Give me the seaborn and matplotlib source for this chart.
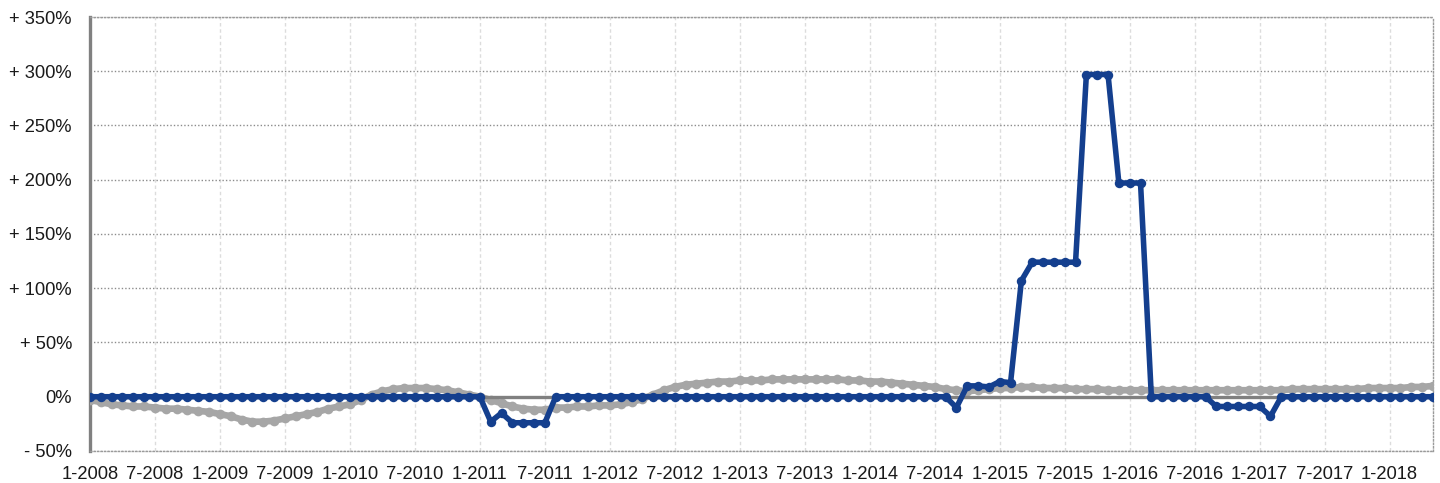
import numpy as np
import pandas as pd
import matplotlib
matplotlib.use("Agg")
import matplotlib.pyplot as plt
import seaborn as sns

# Monthly change (%), January 2008 through May 2018
blue_values = (
    [0] * 37
    + [-23, -15, -24, -24, -24, -24]
    + [0] * 37
    + [-10]
    + [10, 10, 9, 14, 13]
    + [107]
    + [124] * 5
    + [297] * 3
    + [197] * 3
    + [0] * 6
    + [-9] * 5
    + [-18]
    + [0] * 15
)

gray_values = [
    -3, -5, -7, -8, -9, -9, -10, -11, -11, -12, -13, -14,
    -16, -18, -21, -23, -23, -22, -20, -18, -16, -14, -11, -9,
    -7, -3, 2, 5, 7, 8, 8, 8, 7, 6, 4, 2,
    0, -3, -6, -9, -11, -12, -12, -10, -10, -9, -9, -8,
    -8, -7, -5, -2, 2, 6, 9, 11, 12, 13, 14, 14,
    15, 15, 15, 16, 16, 16, 16, 16, 16, 16, 15, 15,
    14, 14, 13, 12, 11, 10, 9, 7, 6, 5, 6, 7,
    8, 8, 9, 9, 8, 8, 8, 7, 7, 7, 6, 6,
    6, 6, 6, 6, 6, 6, 6, 6, 6, 6, 6, 6,
    6, 6, 6, 7, 7, 7, 7, 7, 7, 7, 8, 8,
    8, 8, 9, 9, 10,
]

x_tick_labels = [
    "1-2008", "7-2008", "1-2009", "7-2009", "1-2010", "7-2010", "1-2011",
    "7-2011", "1-2012", "7-2012", "1-2013", "7-2013", "1-2014", "7-2014",
    "1-2015", "7-2015", "1-2016", "7-2016", "1-2017", "7-2017", "1-2018",
]
y_tick_values = [-50, 0, 50, 100, 150, 200, 250, 300, 350]
y_tick_labels = ["- 50%", "0%", "+ 50%", "+ 100%", "+ 150%", "+ 200%",
                 "+ 250%", "+ 300%", "+ 350%"]

BLUE = "#143f8e"
GRAY = "#a6a6a6"
AXIS_GRAY = "#808080"

months = np.arange(len(blue_values))
df = pd.DataFrame({"month": months, "blue": blue_values, "gray": gray_values})

sns.set_style("white")
plt.rcParams["font.family"] = ["Liberation Sans", "DejaVu Sans"]

fig = plt.figure(figsize=(14.4, 4.83), dpi=100)
ax = fig.add_axes([0.0625, 0.0663, 0.9326, 0.8985])

sns.lineplot(data=df, x="month", y="gray", ax=ax, color=GRAY, lw=4.8,
             marker="o", markersize=7.0, markeredgewidth=0, zorder=3)
ax.axhline(0, color=AXIS_GRAY, lw=2.4, zorder=4)
sns.lineplot(data=df, x="month", y="blue", ax=ax, color=BLUE, lw=4.0,
             marker="o", markersize=6.8, markeredgewidth=0, zorder=5)

ax.set_xlim(0, len(blue_values) - 1)
ax.set_ylim(-50, 350)

ax.set_xticks(np.arange(0, len(x_tick_labels) * 6, 6))
ax.set_xticklabels(x_tick_labels, fontsize=13.2, color="#1a1a1a")
ax.set_yticks(y_tick_values)
ax.set_yticklabels(y_tick_labels, fontsize=13.2, color="#1a1a1a")
ax.set_xlabel("")
ax.set_ylabel("")

ax.tick_params(axis="x", length=0, pad=11)
ax.tick_params(axis="y", length=4, width=2, color=AXIS_GRAY, direction="out", pad=9)

ax.xaxis.grid(True, color="#dcdcdc", lw=1.0, ls=(0, (2.5, 2)), zorder=0)
ax.yaxis.grid(True, color="#8c8c8c", lw=1.0, ls=(0, (1, 1.5)), zorder=0)
ax.set_axisbelow(True)

ax.spines["left"].set_color(AXIS_GRAY)
ax.spines["left"].set_linewidth(2.4)
for side in ("top", "right", "bottom"):
    ax.spines[side].set_color("#9a9a9a")
    ax.spines[side].set_linewidth(1.0)
    ax.spines[side].set_linestyle((0, (1, 1.5)))

fig.savefig("out.png", dpi=100)
